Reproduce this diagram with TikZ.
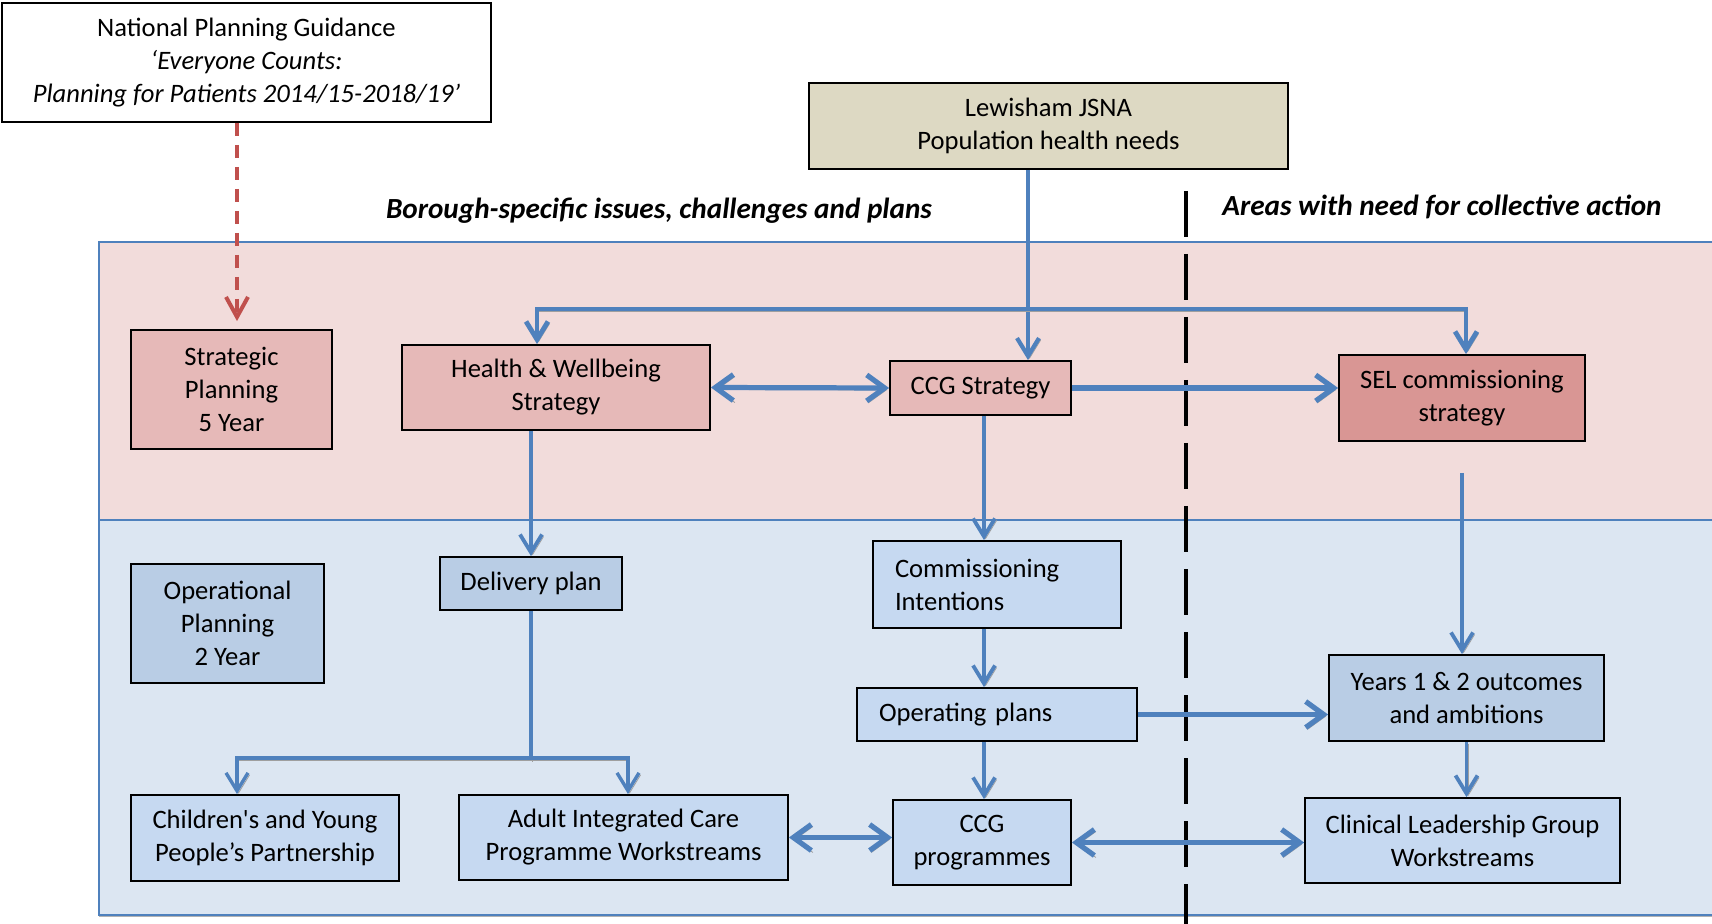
\documentclass[tikz,border=0pt]{standalone}
\usepackage{fontspec}
\setmainfont{Carlito}
\usetikzlibrary{arrows.meta,positioning,calc}
\definecolor{bandpink}{HTML}{F2DCDB}
\definecolor{bandblue}{HTML}{DCE6F2}
\definecolor{flowblue}{HTML}{4F81BD}
\definecolor{stratpink}{HTML}{E6B9B8}
\definecolor{selrose}{HTML}{D99694}
\definecolor{opblue}{HTML}{B9CDE5}
\definecolor{paleblue}{HTML}{C6D9F1}
\definecolor{jsnabeige}{HTML}{DDD9C3}
\definecolor{guidered}{HTML}{C0504D}
\newcommand{\planfont}{\fontsize{13.3}{16.5}\selectfont}
\tikzset{
  planbox/.style={draw=black,line width=0.9pt,align=center,inner sep=0pt,font=\planfont},
  strategybox/.style={planbox,fill=stratpink},
  operbox/.style={planbox,fill=opblue},
  workbox/.style={planbox,fill=paleblue},
  shadowed/.style={preaction={draw=gray!75,transform canvas={shift={(0.8pt,-1pt)}}}},
  flowarrow/.style={-{Straight Barb[length=9pt,width=11pt]},draw=flowblue,line width=1.9pt,shadowed},
  forkarrow/.style={{Straight Barb[length=9pt,width=11pt]}-{Straight Barb[length=9pt,width=11pt]},
    draw=flowblue,line width=1.9pt,shadowed},
  thickarrow/.style={-{Straight Barb[length=9pt,width=13pt]},draw=flowblue,line width=2.6pt,shadowed},
  dualarrow/.style={{Straight Barb[length=9pt,width=13pt]}-{Straight Barb[length=9pt,width=13pt]},
    draw=flowblue,line width=2.6pt,shadowed},
  bandtitle/.style={font=\fontsize{14.6}{17}\selectfont\bfseries\itshape}
}

\begin{document}
\begin{tikzpicture}[x=0.5pt,y=-0.5pt]
  \useasboundingbox (0,0) rectangle (1712,924);
  % bands
  \fill[gray!60] (99,523) rectangle (1720,917);
  \draw[flowblue,line width=0.8pt,fill=bandpink] (99,242) rectangle (1720,520);
  \draw[flowblue,line width=0.8pt,fill=bandblue] (99,520) rectangle (1720,915);
  \draw[black,line width=2pt,dash pattern=on 23pt off 8.5pt] (1186,191) -- (1186,924);

  \node[bandtitle] (borough) at (659,211) {Borough-specific issues, challenges and plans};
  \node[bandtitle] (areas) at (1442,207) {Areas with need for collective action};

  \node[planbox,fill=white,line width=1pt,minimum width=244.5pt,minimum height=59.5pt] (natl) at (246.5,62.5)
    {National Planning Guidance\\\textit{‘Everyone Counts:}\\\textit{Planning for Patients 2014/15-2018/19’}};
  \node[planbox,fill=jsnabeige,minimum width=239.5pt,minimum height=43pt] (jsna) at (1048.5,126)
    {Lewisham JSNA\\Population health needs};

  \node[strategybox,minimum width=100.5pt,minimum height=59.5pt] (strat) at (231.5,389.5) {Strategic\\Planning\\5 Year};
  \node[strategybox,minimum width=154pt,minimum height=42.5pt] (hwb) at (556,387.5) {Health \& Wellbeing\\Strategy};
  \node[strategybox,minimum width=90.5pt,minimum height=27pt] (ccgs) at (980.5,388) {CCG Strategy};
  \node[planbox,fill=selrose,minimum width=123pt,minimum height=43pt] (sel) at (1462,398) {SEL commissioning\\strategy};

  \node[operbox,minimum width=96.5pt,minimum height=59.5pt] (oper) at (227.5,623.5) {Operational\\Planning\\2 Year};
  \node[operbox,minimum width=91pt,minimum height=26.5pt] (deliv) at (531,583.5) {Delivery plan};
  \node[workbox,align=left,text width=102pt,inner xsep=11pt,minimum height=43.5pt] (commint) at (997,584.5)
    {Commissioning\\Intentions};
  \node[workbox,align=left,text width=118pt,inner xsep=11pt,minimum height=26.5pt] (opplans) at (997,714.5)
    {Operating plans};
  \node[workbox,minimum width=89pt,minimum height=42.5pt] (ccgp) at (982,842.5) {CCG\\programmes};
  \node[operbox,minimum width=137.5pt,minimum height=43pt] (years) at (1466.5,698)
    {Years 1 \& 2 outcomes\\and ambitions};
  \node[workbox,minimum width=157.5pt,minimum height=42.5pt] (clin) at (1462.5,840.5)
    {Clinical Leadership Group\\Workstreams};
  \node[workbox,minimum width=134pt,minimum height=43pt] (cyp) at (265,838)
    {Children\textquotesingle s and Young\\People’s Partnership};
  \node[workbox,minimum width=164.5pt,minimum height=42.5pt] (adult) at (623.5,837.5)
    {Adult Integrated Care\\Programme Workstreams};

  \coordinate (jsnaline) at (1028,0);
  \coordinate (ccgline) at (984,0);

  \draw[guidered,line width=2pt,dash pattern=on 6.5pt off 4.5pt,
        -{Straight Barb[length=10pt,width=11pt]}] ($(natl.south -| strat.north)+(5.5,0)$) -- ($(strat.north)+(5.5,-8)$);

  \draw[flowarrow,line width=2.1pt] (jsna.south -| jsnaline) -- (ccgs.north -| jsnaline);
  \draw[forkarrow,line width=2.4pt] ($(hwb.north)+(-19,0)$) -- ++(0,-35) -| ($(sel.north)+(4,0)$);
  \draw[dualarrow] (hwb.east) -- (ccgs.west);
  \draw[thickarrow] (ccgs.east) -- (ccgs.east -| sel.west);

  \draw[flowarrow] (hwb.south -| deliv.north) -- (deliv.north);
  \draw[flowarrow] (ccgs.south -| ccgline) -- (commint.north -| ccgline);
  \draw[flowarrow] (commint.south -| ccgline) -- (opplans.north -| ccgline);
  \draw[flowarrow] (opplans.south -| ccgline) -- (ccgp.north -| ccgline);
  \draw[thickarrow] (opplans.east) -- (opplans.east -| years.west);

  \draw[flowarrow] ($(sel.south)+(0,31)$) -- (sel.south |- years.north);
  \draw[flowarrow] (years.south) -- (years.south |- clin.north);
  \draw[dualarrow] (ccgp.east) -- (ccgp.east -| clin.west);
  \draw[dualarrow] (adult.east) -- (adult.east -| ccgp.west);

  \draw[draw=flowblue,line width=1.7pt,shadowed] (deliv.south) -- ++(0,149);
  \draw[forkarrow,line width=1.7pt] ($(cyp.north)+(-28,0)$) -- ++(0,-36) -| ($(adult.north)+(4.5,0)$);
\end{tikzpicture}
\end{document}
